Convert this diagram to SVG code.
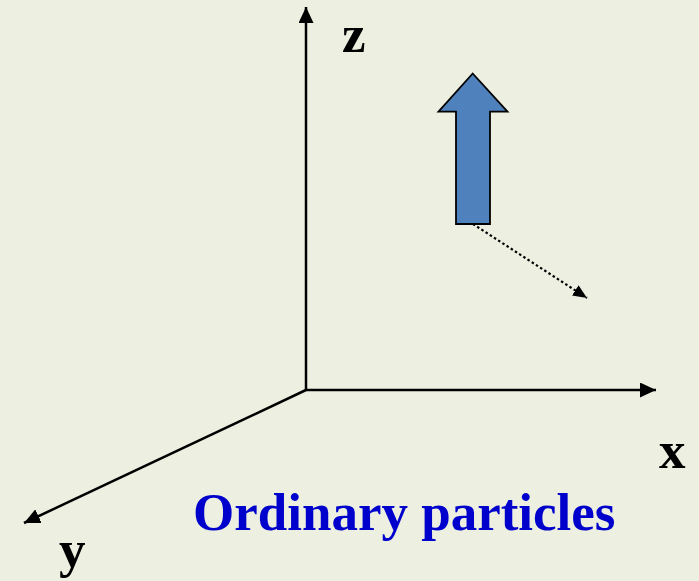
<svg xmlns="http://www.w3.org/2000/svg" width="699" height="581" viewBox="0 0 699 581">
<defs>
<marker id="ah" viewBox="0 0 16 15" refX="16" refY="7.5" markerWidth="16" markerHeight="15" markerUnits="userSpaceOnUse" orient="auto">
<path d="M0,0 L16,7.5 L0,15 Z" fill="#000"/>
</marker>
<marker id="ahs" viewBox="0 0 14 12" refX="14" refY="6" markerWidth="14" markerHeight="12" markerUnits="userSpaceOnUse" orient="auto">
<path d="M0,0 L14,6 L0,12 Z" fill="#000"/>
</marker>
<style>
.axis{stroke:#000;stroke-width:2.5;fill:none}
.lbl{font-family:"Liberation Serif",serif;font-weight:bold;font-size:53px;fill:#000}
.title{font-family:"Liberation Serif",serif;font-weight:bold;font-size:53px;fill:#0000CC}
</style>
</defs>
<rect width="699" height="581" fill="#EDF0E0"/>
<g id="connectors">
<line class="axis" x1="306" y1="390" x2="306" y2="7" marker-end="url(#ah)"/>
<line class="axis" x1="306" y1="390" x2="656" y2="390" marker-end="url(#ah)"/>
<line class="axis" x1="306" y1="390" x2="24" y2="523" marker-end="url(#ah)"/>
<line x1="473" y1="224" x2="587" y2="298" stroke="#000" stroke-width="2.2" stroke-dasharray="2.5,2.5" marker-end="url(#ahs)"/>
</g>
<g id="spin-arrow">
<path d="M472.7,73.5 L507.5,111.7 L490,111.7 L490,224 L456,224 L456,111.7 L438.5,111.7 Z" fill="#4F81BD" stroke="#000" stroke-width="1.8" stroke-linejoin="miter"/>
</g>
<g id="labels">
<text class="lbl" x="342" y="52">z</text>
<text class="lbl" x="659" y="468">x</text>
<text class="lbl" x="59" y="567">y</text>
<text class="title" x="193" y="530">Ordinary particles</text>
</g>
</svg>
